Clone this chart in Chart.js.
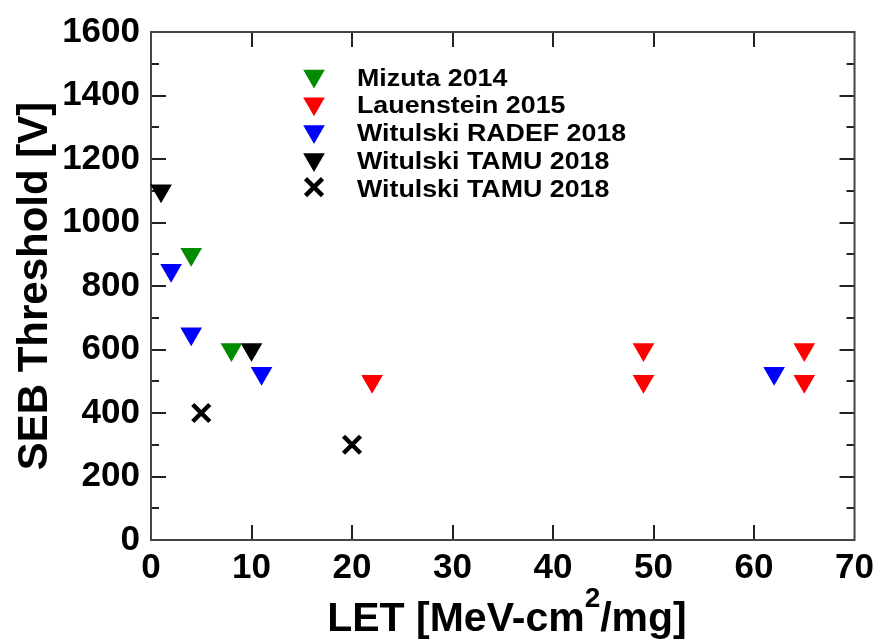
<!DOCTYPE html>
<html>
<head>
<meta charset="utf-8">
<script src="https://cdn.jsdelivr.net/npm/chart.js@4/dist/chart.umd.min.js"></script>
<style>
  html, body { margin: 0; padding: 0; background: #ffffff; }
  #wrap { width: 881px; height: 642px; }
</style>
</head>
<body>
<div id="wrap"><canvas id="c" width="881" height="642"></canvas></div>
<script>
// SEB threshold voltage versus LET, by source
const seriesNames = [
  'Mizuta 2014',
  'Lauenstein 2015',
  'Witulski RADEF 2018',
  'Witulski TAMU 2018',
  'Witulski TAMU 2018'
];
const mizutaLET = [4, 8];
const mizutaV = [900, 600];
const lauensteinLET = [22, 49, 49, 65, 65];
const lauensteinV = [500, 600, 500, 600, 500];
const radefLET = [2, 4, 11, 62];
const radefV = [850, 650, 525, 525];
const tamuLET = [1, 10];
const tamuV = [1100, 600];
const tamuCrossLET = [5, 20];
const tamuCrossV = [400, 300];

const xTickValues = [0, 10, 20, 30, 40, 50, 60, 70];
const yTickValues = [0, 200, 400, 600, 800, 1000, 1200, 1400, 1600];
const yMinorValues = [100, 300, 500, 700, 900, 1100, 1300, 1500];

const xTitleParts = ['LET [MeV-cm', '2', '/mg]'];
const yTitle = 'SEB Threshold [V]';

function pts(xs, ys) { return xs.map((x, i) => ({ x: x, y: ys[i] })); }

const TRI = { pointStyle: 'triangle', rotation: 180, pointRadius: 12.5, borderWidth: 0 };
const datasets = [
  Object.assign({ label: seriesNames[0], data: pts(mizutaLET, mizutaV), backgroundColor: '#008b00', borderColor: '#008b00' }, TRI),
  Object.assign({ label: seriesNames[1], data: pts(lauensteinLET, lauensteinV), backgroundColor: '#ff0000', borderColor: '#ff0000' }, TRI),
  Object.assign({ label: seriesNames[2], data: pts(radefLET, radefV), backgroundColor: '#0000ff', borderColor: '#0000ff' }, TRI),
  Object.assign({ label: seriesNames[3], data: pts(tamuLET, tamuV), backgroundColor: '#000000', borderColor: '#000000' }, TRI),
  { label: seriesNames[4], data: pts(tamuCrossLET, tamuCrossV), pointStyle: 'crossRot', rotation: 0,
    pointRadius: 12, borderWidth: 4.5, backgroundColor: '#000000', borderColor: '#000000' }
];
datasets.forEach(d => { d.clip = false; d.showLine = false; d.pointHoverRadius = d.pointRadius; });

const FONT = "'Liberation Sans', Arial, Helvetica, sans-serif";

function wideText(ctx, text, x, y, size, sx, align) {
  ctx.save();
  ctx.font = 'bold ' + size + 'px ' + FONT;
  ctx.textAlign = align || 'left';
  ctx.textBaseline = 'alphabetic';
  ctx.fillStyle = '#000';
  ctx.translate(x, y);
  ctx.scale(sx, 1);
  ctx.fillText(text, 0, 0);
  ctx.restore();
}

// Frame with inward tick marks on all four sides
const frameTicks = {
  id: 'frameTicks',
  beforeDatasetsDraw(chart) {
    const { ctx, chartArea: a, scales } = chart;
    const xs = scales.x, ys = scales.y;
    ctx.save();
    ctx.strokeStyle = '#222';
    ctx.lineWidth = 2;
    const major = 15, minor = 8;
    ctx.beginPath();
    xTickValues.forEach(v => {
      const px = Math.round(xs.getPixelForValue(v));
      if (v === xs.min || v === xs.max) return;
      ctx.moveTo(px, a.bottom); ctx.lineTo(px, a.bottom - major);
      ctx.moveTo(px, a.top); ctx.lineTo(px, a.top + major);
    });
    yTickValues.forEach(v => {
      const py = Math.round(ys.getPixelForValue(v));
      if (v === ys.min || v === ys.max) return;
      ctx.moveTo(a.left, py); ctx.lineTo(a.left + major, py);
      ctx.moveTo(a.right, py); ctx.lineTo(a.right - major, py);
    });
    yMinorValues.forEach(v => {
      const py = Math.round(ys.getPixelForValue(v));
      ctx.moveTo(a.left, py); ctx.lineTo(a.left + minor, py);
      ctx.moveTo(a.right, py); ctx.lineTo(a.right - minor, py);
    });
    ctx.stroke();
    ctx.strokeStyle = '#444';
    ctx.lineWidth = 2;
    ctx.strokeRect(a.left, a.top, a.right - a.left, a.bottom - a.top);
    ctx.restore();
  }
};

// Axis titles and the in-plot key
const titlesAndKey = {
  id: 'titlesAndKey',
  afterDraw(chart) {
    const { ctx, chartArea: a } = chart;
    // y title, rotated
    ctx.save();
    ctx.translate(47, (a.top + a.bottom) / 2);
    ctx.rotate(-Math.PI / 2);
    ctx.font = 'bold 42px ' + FONT;
    ctx.textAlign = 'center';
    ctx.textBaseline = 'alphabetic';
    ctx.fillStyle = '#000';
    ctx.fillText(yTitle, 0, 0);
    ctx.restore();

    // x title with superscript
    ctx.save();
    ctx.fillStyle = '#000';
    ctx.textBaseline = 'alphabetic';
    ctx.textAlign = 'left';
    const base = 631;
    ctx.font = 'bold 41px ' + FONT;
    const w0 = ctx.measureText(xTitleParts[0]).width;
    const w2 = ctx.measureText(xTitleParts[2]).width;
    ctx.font = 'bold 28px ' + FONT;
    const w1 = ctx.measureText(xTitleParts[1]).width;
    const total = w0 + w1 + w2;
    let x = 507 - total / 2;
    ctx.font = 'bold 41px ' + FONT;
    ctx.fillText(xTitleParts[0], x, base);
    x += w0;
    ctx.font = 'bold 28px ' + FONT;
    ctx.fillText(xTitleParts[1], x, base - 24);
    x += w1;
    ctx.font = 'bold 41px ' + FONT;
    ctx.fillText(xTitleParts[2], x, base);
    ctx.restore();

    // key
    const keyX = 314, textX = 357, rowY0 = 76, rowStep = 27.8;
    chart.data.datasets.forEach((d, i) => {
      const cy = rowY0 + i * rowStep;
      ctx.save();
      ctx.fillStyle = d.backgroundColor;
      ctx.strokeStyle = d.borderColor;
      ctx.lineWidth = d.borderWidth;
      Chart.helpers.drawPoint(ctx, {
        pointStyle: d.pointStyle, rotation: d.rotation,
        radius: d.pointRadius, borderWidth: d.borderWidth
      }, keyX, cy);
      ctx.restore();
      wideText(ctx, d.label, textX, rowY0 + i * rowStep + 9.5, 23.5, 1.14, 'left');
    });
  }
};

const tickFont = { family: FONT, size: 35, weight: 'bold' };

new Chart(document.getElementById('c'), {
  type: 'scatter',
  data: { datasets: datasets },
  options: {
    responsive: false,
    animation: false,
    events: [],
    layout: { padding: { top: 22, right: 24, left: 0, bottom: 0 } },
    plugins: { legend: { display: false }, tooltip: { enabled: false } },
    scales: {
      x: {
        type: 'linear', min: 0, max: 70,
        afterBuildTicks(s) { s.ticks = xTickValues.map(v => ({ value: v })); },
        afterFit(s) { s.height = 102; },
        grid: { display: false, drawTicks: false },
        border: { display: false },
        ticks: { color: '#000', padding: 7, maxRotation: 0, font: tickFont, callback: v => String(v) }
      },
      y: {
        type: 'linear', min: 0, max: 1600,
        afterBuildTicks(s) { s.ticks = yTickValues.map(v => ({ value: v })); },
        afterFit(s) { s.width = 151; },
        grid: { display: false, drawTicks: false },
        border: { display: false },
        ticks: { color: '#000', padding: 11, font: tickFont, callback: v => String(v) }
      }
    }
  },
  plugins: [frameTicks, titlesAndKey]
});
</script>
</body>
</html>
